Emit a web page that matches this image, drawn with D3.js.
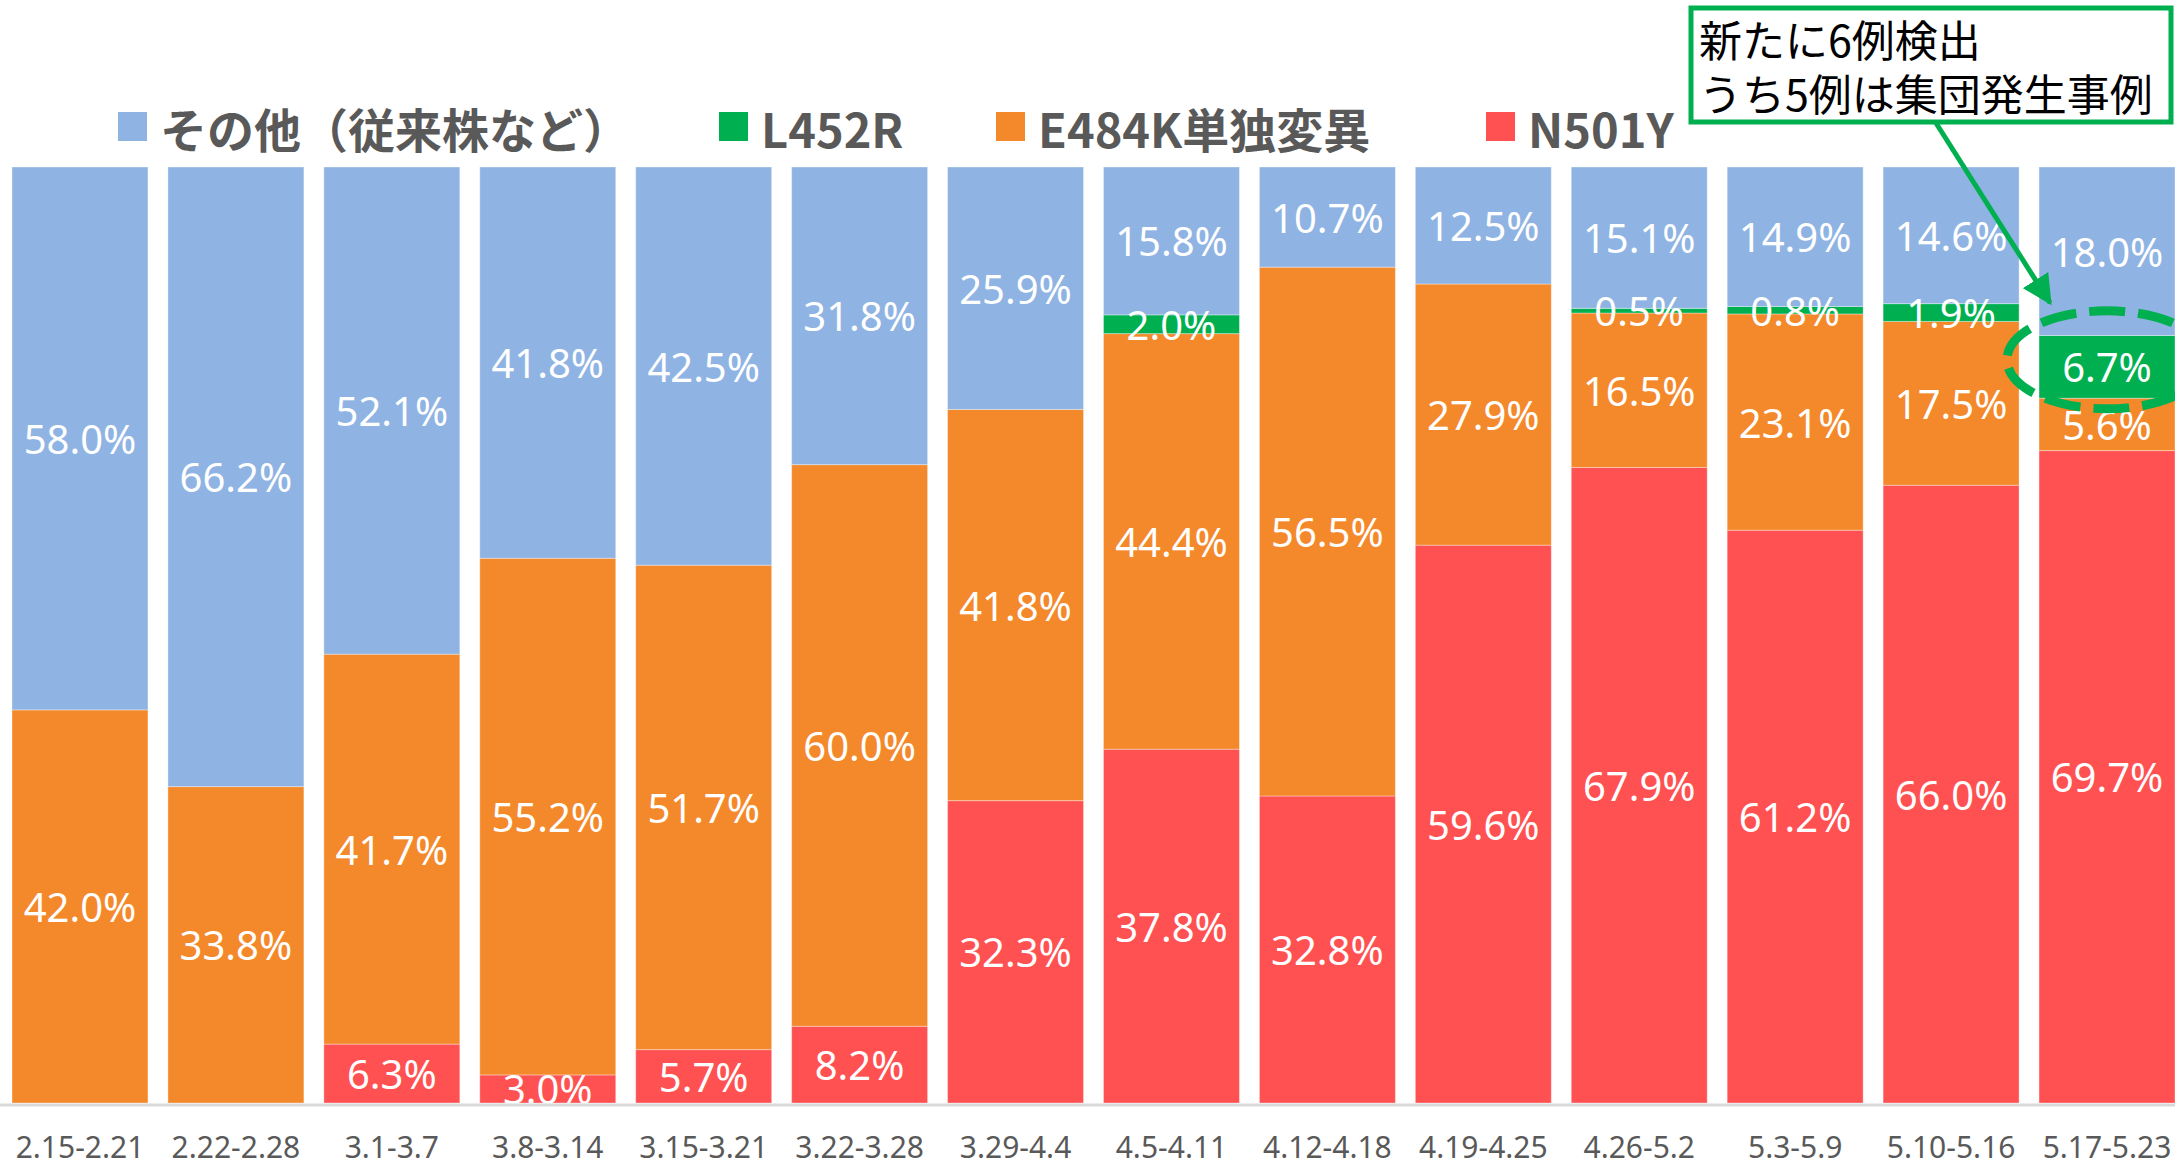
<!DOCTYPE html>
<html lang="ja">
<head>
    <meta charset="UTF-8">
    <script src="https://d3js.org/d3.v7.min.js"></script>
    <title>変異株の割合</title>
    <style>
        body {
            margin: 0;
            background: #fff;
        }
        svg {
            display: block;
        }
    </style>
</head>
<body>
    <svg></svg>

    <script>
        const weeks = ['2.15-2.21', '2.22-2.28', '3.1-3.7', '3.8-3.14', '3.15-3.21', '3.22-3.28', '3.29-4.4',
            '4.5-4.11', '4.12-4.18', '4.19-4.25', '4.26-5.2', '5.3-5.9', '5.10-5.16', '5.17-5.23'];

        // bottom to top
        const n501y = [0, 0, 6.3, 3.0, 5.7, 8.2, 32.3, 37.8, 32.8, 59.6, 67.9, 61.2, 66.0, 69.7];
        const e484k = [42.0, 33.8, 41.7, 55.2, 51.7, 60.0, 41.8, 44.4, 56.5, 27.9, 16.5, 23.1, 17.5, 5.6];
        const l452r = [0, 0, 0, 0, 0, 0, 0, 2.0, 0, 0, 0.5, 0.8, 1.9, 6.7];
        const other = [58.0, 66.2, 52.1, 41.8, 42.5, 31.8, 25.9, 15.8, 10.7, 12.5, 15.1, 14.9, 14.6, 18.0];

        const seriesNames = ['N501Y', 'E484K単独変異', 'L452R', 'その他（従来株など）'];
        const noteLines = ['新たに6例検出', 'うち5例は集団発生事例'];

        const width = 2175;
        const height = 1165;
        const plotTop = 167;
        const plotBottom = 1103;
        const colors = {
            'N501Y': '#ff5151',
            'E484K単独変異': '#f4892c',
            'L452R': '#00b050',
            'その他（従来株など）': '#8fb4e3'
        };
        const green = '#00b050';

        const rows = weeks.map((w, i) => ({
            week: w,
            'N501Y': n501y[i],
            'E484K単独変異': e484k[i],
            'L452R': l452r[i],
            'その他（従来株など）': other[i]
        }));

        const stack = d3.stack()
            .keys(seriesNames)
            .offset(d3.stackOffsetExpand);
        const layers = stack(rows);

        const xScale = d3.scaleBand()
            .domain(weeks)
            .range([12, width])
            .paddingInner(0.128)
            .paddingOuter(0);

        const yScale = d3.scaleLinear()
            .domain([0, 1])
            .range([plotBottom, plotTop]);

        const svg = d3.select('svg')
            .attr('width', width)
            .attr('height', height);

        const groups = svg.append('g')
            .selectAll('g')
            .data(layers)
            .enter().append('g')
            .attr('fill', d => colors[d.key]);

        groups.selectAll('rect')
            .data(d => d)
            .enter().append('rect')
            .attr('x', d => xScale(d.data.week))
            .attr('y', d => yScale(d[1]))
            .attr('width', xScale.bandwidth())
            .attr('height', d => yScale(d[0]) - yScale(d[1]))
            .attr('stroke', 'rgba(255,255,255,0.35)')
            .attr('stroke-width', 1);

        // value labels
        layers.forEach(layer => {
            svg.append('g')
                .selectAll('text')
                .data(layer.filter(d => d.data[layer.key] > 0))
                .enter().append('text')
                .attr('x', d => xScale(d.data.week) + xScale.bandwidth() / 2)
                .attr('y', d => (yScale(d[0]) + yScale(d[1])) / 2)
                .attr('text-anchor', 'middle')
                .attr('dominant-baseline', 'central')
                .attr('font-family', '"Noto Sans", sans-serif')
                .attr('font-size', 40)
                .attr('fill', '#fff')
                .text(d => `${d.data[layer.key].toFixed(1)}%`);
        });

        // x axis
        const xAxis = d3.axisBottom(xScale)
            .tickSize(0)
            .tickPadding(0);

        const axisG = svg.append('g')
            .attr('transform', `translate(0, ${plotBottom + 2})`)
            .call(xAxis);

        axisG.select('.domain')
            .attr('d', `M0,0H${width}`)
            .attr('stroke', '#d9d9d9')
            .attr('stroke-width', 3);

        axisG.selectAll('text')
            .attr('y', 41)
            .attr('dy', null)
            .attr('dominant-baseline', 'central')
            .attr('font-family', '"Noto Sans", sans-serif')
            .attr('font-size', 30)
            .attr('fill', '#595959');

        // legend
        const legendItems = [
            { key: 'その他（従来株など）', x: 118 },
            { key: 'L452R', x: 719 },
            { key: 'E484K単独変異', x: 996 },
            { key: 'N501Y', x: 1486 }
        ];

        const legend = svg.append('g')
            .selectAll('g')
            .data(legendItems)
            .enter().append('g')
            .attr('transform', d => `translate(${d.x}, 112)`);

        legend.append('rect')
            .attr('width', 29)
            .attr('height', 29)
            .attr('fill', d => colors[d.key]);

        legend.append('text')
            .attr('x', 42)
            .attr('y', 15)
            .attr('dominant-baseline', 'central')
            .attr('font-family', '"Noto Sans CJK JP", sans-serif')
            .attr('font-weight', 'bold')
            .attr('font-size', 47)
            .attr('fill', '#595959')
            .text(d => d.key);

        // callout on the last week
        const lastWeek = weeks[weeks.length - 1];
        const lastGreen = layers[2][weeks.length - 1];
        const ecx = xScale(lastWeek) + xScale.bandwidth() / 2;
        const ecy = (yScale(lastGreen[0]) + yScale(lastGreen[1])) / 2 - 7;

        svg.append('ellipse')
            .attr('cx', ecx)
            .attr('cy', ecy)
            .attr('rx', 100)
            .attr('ry', 49)
            .attr('fill', 'none')
            .attr('stroke', green)
            .attr('stroke-width', 9)
            .attr('stroke-dasharray', '36 13');

        svg.append('defs')
            .append('marker')
            .attr('id', 'arrow')
            .attr('viewBox', '0 0 10 10')
            .attr('refX', 9)
            .attr('refY', 5)
            .attr('markerWidth', 6)
            .attr('markerHeight', 6)
            .attr('orient', 'auto')
            .append('path')
            .attr('d', 'M0,0L10,5L0,10Z')
            .attr('fill', green);

        svg.append('line')
            .attr('x1', 1936)
            .attr('y1', 123)
            .attr('x2', ecx - 57)
            .attr('y2', ecy - 57)
            .attr('stroke', green)
            .attr('stroke-width', 5)
            .attr('marker-end', 'url(#arrow)');

        svg.append('rect')
            .attr('x', 1691)
            .attr('y', 8)
            .attr('width', 480)
            .attr('height', 114)
            .attr('fill', '#fff')
            .attr('stroke', green)
            .attr('stroke-width', 5);

        svg.append('g')
            .selectAll('text')
            .data(noteLines)
            .enter().append('text')
            .attr('x', 1699)
            .attr('y', (d, i) => 38 + i * 54)
            .attr('dominant-baseline', 'central')
            .attr('font-family', '"Noto Sans CJK JP", sans-serif')
            .attr('font-size', 43)
            .attr('fill', '#000')
            .text(d => d);
    </script>
</body>
</html>
